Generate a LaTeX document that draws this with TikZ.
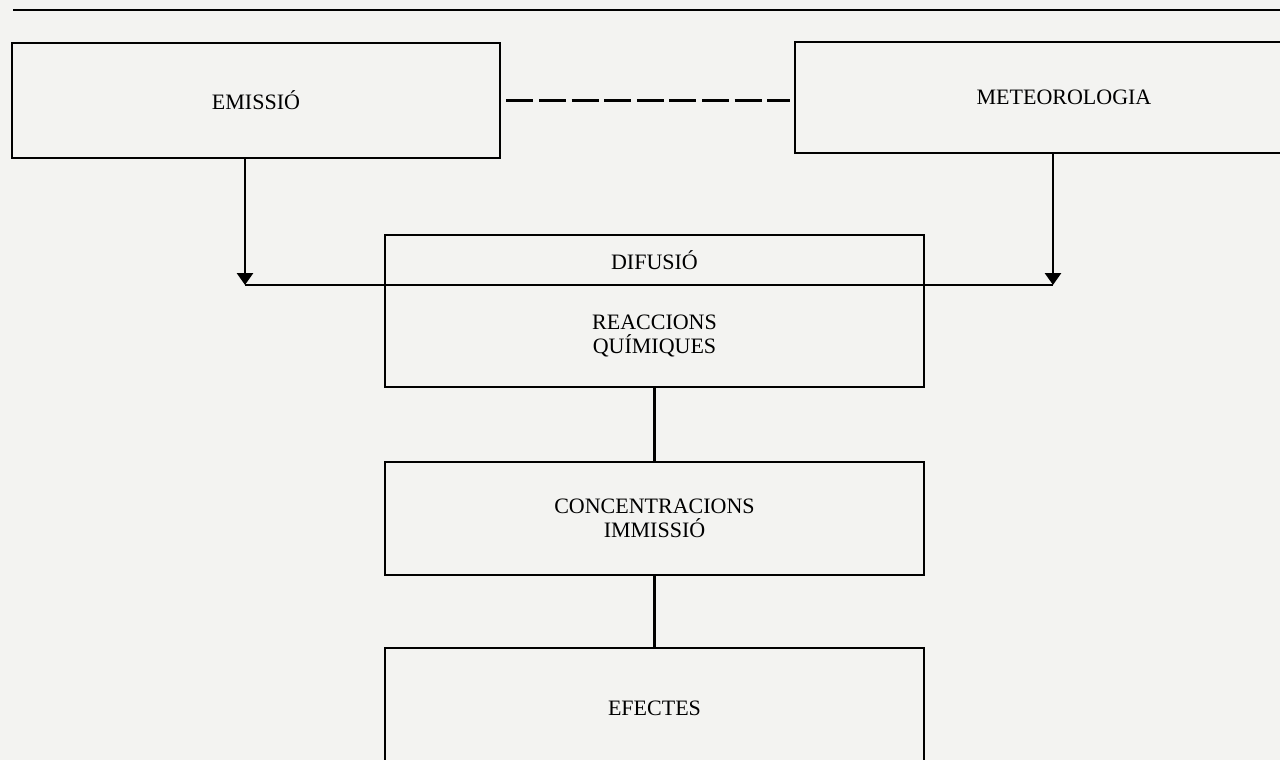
\documentclass[tikz,border=0pt]{standalone}
\usepackage{fontspec}
\setmainfont{Liberation Serif}
\usetikzlibrary{arrows.meta}
\definecolor{paper}{RGB}{243,243,241}

\begin{document}
\begin{tikzpicture}[x=0.5pt,y=-0.5pt,line width=1.4pt,
    >={Triangle[length=6pt,width=8pt]}]
  \tikzset{every node/.style={draw,line width=1.4pt,inner sep=0pt,align=center,
      font=\fontsize{11}{12}\selectfont}}
  \useasboundingbox (0,0) rectangle (1280,760);
  \fill[paper] (0,0) rectangle (1280,760);
  \clip (0,0) rectangle (1280,760);

  \draw[line width=1.2pt] (13,10) -- (1280,10);

  \node[minimum width=244pt,minimum height=57.5pt]  (emis)  at (256,100.5)  {EMISSIÓ};
  \node[minimum width=269pt,minimum height=55.5pt]  (meteo) at (1064,97.5)  {METEOROLOGIA};
  \node[minimum width=269.5pt,minimum height=25pt]  (difu)  at (654.5,260)  {DIFUSIÓ};
  \node[minimum width=269.5pt,minimum height=51pt]  (reac)  at (654.5,336)  {REACCIONS\\QUÍMIQUES};
  \node[minimum width=269.5pt,minimum height=56.5pt](conc)  at (654.5,518.5){CONCENTRACIONS\\IMMISSIÓ};
  \node[minimum width=269.5pt,minimum height=60pt]  (efec)  at (654.5,708)  {EFECTES};

  \coordinate (jl) at (245,285);
  \coordinate (jr) at (1053,285);

  \draw[dash pattern=on 13.5pt off 2.8pt,line width=1.2pt,shorten <=2.5pt,shorten >=2pt]
    (emis.east) -- (emis.east -| meteo.west);

  \draw (jl) -- (jr);
  \path[->]
    (emis.south -| jl) edge (jl)
    (meteo.south -| jr) edge (jr);

  \path[-]
    (reac.south) edge (conc.north)
    (conc.south) edge (efec.north);
\end{tikzpicture}
\end{document}
